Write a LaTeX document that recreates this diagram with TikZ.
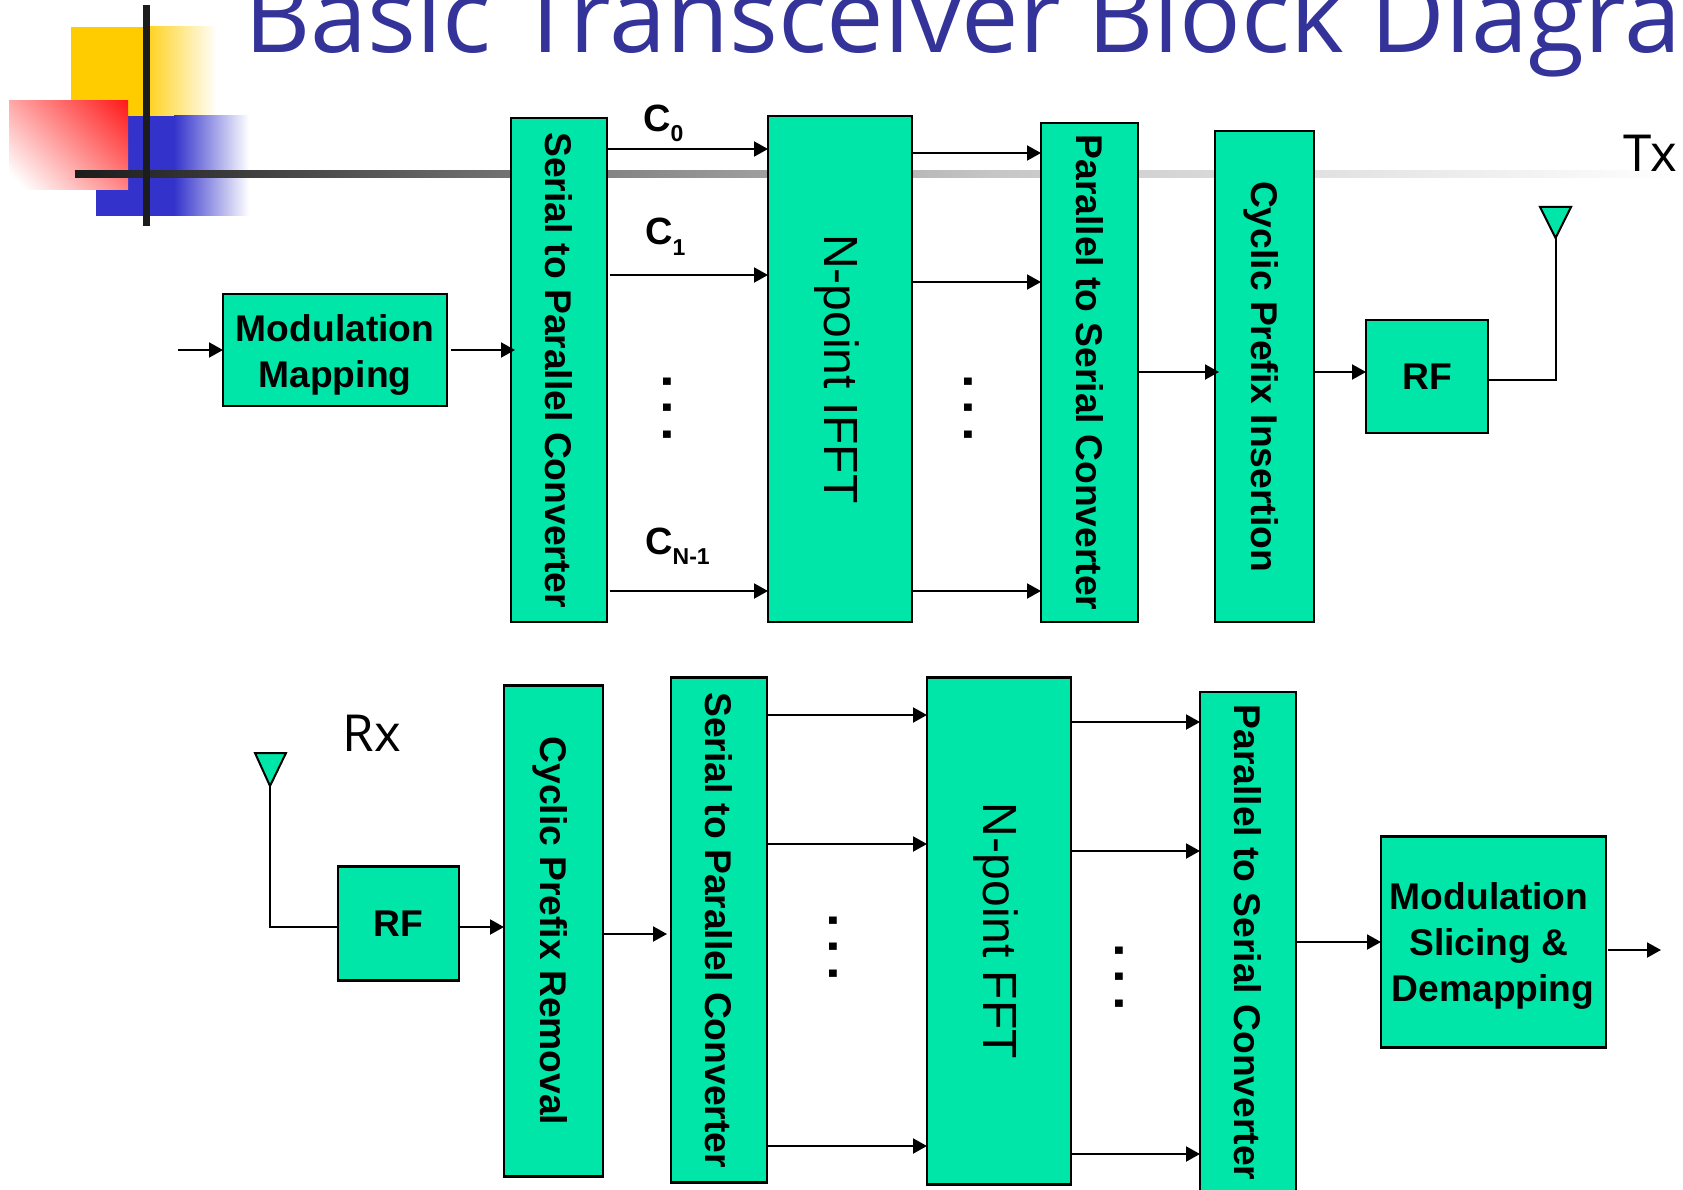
\documentclass[tikz,border=0pt]{standalone}
\usepackage{fontspec}
\setmainfont{Liberation Sans}
\newfontfamily\titlef{Open Sans}
\usetikzlibrary{arrows.meta,calc}
\definecolor{boxg}{HTML}{00E6A8}
\definecolor{titleb}{HTML}{333399}
\definecolor{decb}{HTML}{3333CC}
\definecolor{decr}{HTML}{FF1010}
\definecolor{decy}{HTML}{FFCC00}
\pgfdeclareverticalshading{redfade}{100bp}{color(0bp)=(white); color(20bp)=(white); color(88bp)=(decr); color(100bp)=(decr)}
\newcommand{\fs}[1]{\fontsize{#1}{#1}\selectfont}
\newcommand{\vtxt}[1]{\rotatebox{-90}{#1}}
\newcommand{\threedots}{\vtxt{.\kern12pt.\kern12pt.}}
\newcommand{\csub}[1]{C\raisebox{-10pt}{\fs{23}#1}}
\tikzset{
 box/.style={draw=black,line width=2.3pt,fill=boxg,inner sep=0pt,outer sep=0pt,font=\fs{37.2}\bfseries,align=center},
 thin box/.style={box,font=\fs{48}},
 boxtext/.style={font=\fs{37.2}\bfseries,align=center,inner sep=0pt},
 arr/.style={draw=black,line width=2pt,-{Triangle[length=14pt,width=15pt]}},
 wire/.style={draw=black,line width=2pt},
 ant/.style={draw=black,line width=2pt,fill=boxg,line join=miter},
 dots/.style={font=\fs{52}\bfseries,inner sep=0pt},
 clabel/.style={font=\fs{38}\bfseries,anchor=base west,inner sep=0pt},
 side/.style={font=\titlef\fs{51},text=black,inner sep=0pt}
}
\begin{document}
\begin{tikzpicture}[x=1pt,y=-1pt]
\useasboundingbox (0,0) rectangle (1683,1190);
\clip (0,0) rectangle (1683,1190);
\fill[white] (0,0) rectangle (1683,1190);
% decoration
\fill[decy] (71,27) rectangle (150,116);
\shade[left color=decy!85!white,right color=white] (150,27) rectangle (217,116);
\fill[decb] (96,116) rectangle (174,216);
\shade[left color=decb,right color=white] (174,116) rectangle (249,216);
\shade[shading=redfade,shading angle=-45] (9,101) rectangle (128,190);
\shade[left color=black!89,right color=black!55] (75,171) rectangle (511,178);
\shade[left color=black!55,right color=black!22] (511,171) rectangle (1000,178);
\shade[left color=black!22,right color=white] (1000,171) rectangle (1683,178);
\fill[black!89] (143,5) rectangle (150,226);
% title
\node[anchor=base west,font=\titlef\fs{102.5},text=titleb,inner sep=0pt] (title) at (244,53) {Basic Transceiver Block Diagram};
\node[side] (tx) at (1650,153) {Tx};
\node[side] (rx) at (372,733) {Rx};
% Tx chain
\node[box,minimum width=224pt,minimum height=112pt] (mod) at (335,350) {};
\node[boxtext] (modt) at (335,355) {Modulation\\[8pt]Mapping};
\node[box,minimum width=96pt,minimum height=504pt] (ser) at (559,370) {\vtxt{Serial to Parallel Converter}};
\node[thin box,minimum width=144pt,minimum height=506pt] (ifft) at (840,369) {\hspace*{-6pt}\vtxt{N-point IFFT}};
\node[box,minimum width=97pt,minimum height=499pt] (pts) at (1089.5,372.5) {\vtxt{Parallel to Serial Converter}};
\node[box,minimum width=99pt,minimum height=491pt] (cp) at (1264.5,376.5) {\hspace*{-6pt}\vtxt{Cyclic Prefix Insertion}};
\node[box,minimum width=122pt,minimum height=113pt] (rft) at (1427,376.5) {RF};
\coordinate (txin) at (178,350);
\coordinate (antt) at (1555.5,238);
\coordinate (antr) at (270,786);
\draw[ant] (1540,207) -- (1571,207) -- (antt) -- cycle;
\draw[arr] (txin) -- (mod.west);
\draw[arr] (451,350) -- (515,350);
\draw[arr] (ser.east |- 0,149) -- (ifft.west |- 0,149);
\draw[arr] ($(ser.east |- 0,275)+(3,0)$) -- (ifft.west |- 0,275);
\draw[arr] ($(ser.east |- 0,591)+(3,0)$) -- (ifft.west |- 0,591);
\draw[arr] (ifft.east |- 0,153) -- (pts.west |- 0,153);
\draw[arr] (ifft.east |- 0,282) -- (pts.west |- 0,282);
\draw[arr] (ifft.east |- 0,591) -- (pts.west |- 0,591);
\draw[arr] (pts.east |- 0,372) -- ($(cp.west |- 0,372)+(4,0)$);
\draw[arr] (cp.east |- 0,372) -- (rft.west |- 0,372);
\draw[wire] (rft.east |- 0,380) -| (antt);
\node[clabel] (c0) at (643,132) {\csub{0}};
\node[clabel] (c1) at (645,245) {\csub{1}};
\node[clabel] (cn) at (645,554) {\csub{N-1}};
\node[dots] (d1) at (667,408) {\threedots};
\node[dots] (d2) at (968,408) {\threedots};
% Rx chain
\node[box,minimum width=121pt,minimum height=114pt] (rfr) at (398.5,923.5) {RF};
\node[box,minimum width=99pt,minimum height=491pt] (cpr) at (553.5,931) {\hspace*{-6pt}\vtxt{Cyclic Prefix Removal}};
\node[box,minimum width=96pt,minimum height=505pt] (stp) at (719,930) {\vtxt{Serial to Parallel Converter}};
\node[thin box,minimum width=144pt,minimum height=507pt] (fft) at (999,931) {\hspace*{-6pt}\vtxt{N-point FFT}};
\node[box,minimum width=96pt,minimum height=508pt] (ptr) at (1248,946) {};
\node[boxtext] (ptrt) at (1248,942.5) {\vtxt{Parallel to Serial Converter}};
\node[box,minimum width=225pt,minimum height=211pt] (dem) at (1493.5,942) {};
\node[boxtext] (demt) at (1489,946) {Modulation\\[9pt]Slicing \&\\[9pt]\hspace*{8pt}Demapping};
\coordinate (rxout) at (1661,950);
\draw[ant] (255,753) -- (286,753) -- (antr) -- cycle;
\draw[wire] (antr) |- (rfr.west |- 0,927);
\draw[arr] (rfr.east |- 0,927) -- (cpr.west |- 0,927);
\draw[arr] (cpr.east |- 0,934) -- ($(stp.west |- 0,934)+(-4,0)$);
\draw[arr] (stp.east |- 0,715) -- (fft.west |- 0,715);
\draw[arr] (stp.east |- 0,844) -- (fft.west |- 0,844);
\draw[arr] (stp.east |- 0,1146) -- (fft.west |- 0,1146);
\draw[arr] (fft.east |- 0,722) -- (ptr.west |- 0,722);
\draw[arr] (fft.east |- 0,851) -- (ptr.west |- 0,851);
\draw[arr] (fft.east |- 0,1154) -- (ptr.west |- 0,1154);
\draw[arr] (ptr.east |- 0,942) -- (dem.west |- 0,942);
\draw[arr] ($(dem.east |- 0,950)+(2,0)$) -- (rxout);
\node[dots] (d3) at (833,947) {\threedots};
\node[dots] (d4) at (1119,977) {\threedots};
\end{tikzpicture}
\end{document}
